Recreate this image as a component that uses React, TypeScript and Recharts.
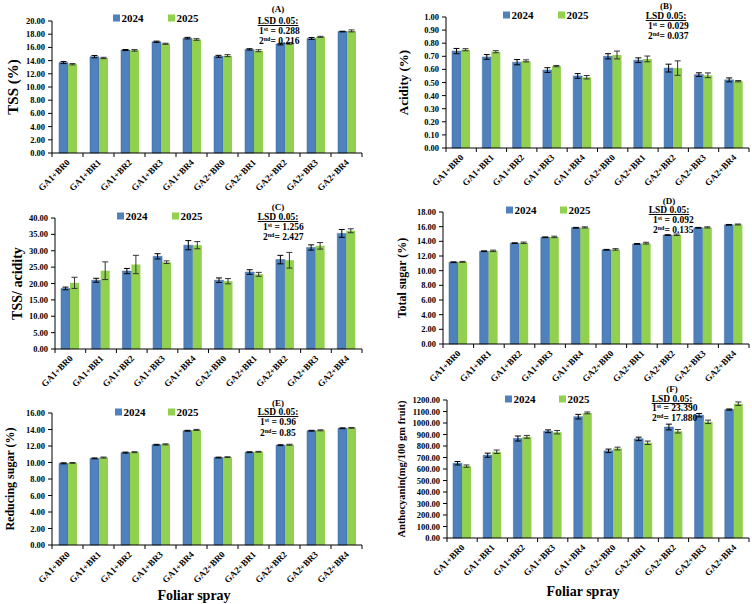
import { BarChart, Bar, XAxis, YAxis, ErrorBar } from 'recharts'

const categories = ['GA1+BR0', 'GA1+BR1', 'GA1+BR2', 'GA1+BR3', 'GA1+BR4', 'GA2+BR0', 'GA2+BR1', 'GA2+BR2', 'GA2+BR3', 'GA2+BR4']

// (A) TSS
const tss2024 = [13.7, 14.6, 15.6, 16.85, 17.4, 14.65, 15.7, 16.5, 17.35, 18.4]
const tss2025 = [13.45, 14.4, 15.55, 16.55, 17.2, 14.75, 15.5, 16.6, 17.6, 18.5]
const tssErr2024 = [0.15, 0.18, 0.08, 0.1, 0.12, 0.15, 0.1, 0.12, 0.15, 0.05]
const tssErr2025 = [0.1, 0.1, 0.12, 0.08, 0.12, 0.15, 0.15, 0.12, 0.08, 0.15]

// (B) Acidity
const acid2024 = [0.74, 0.695, 0.655, 0.595, 0.55, 0.7, 0.67, 0.61, 0.56, 0.52]
const acid2025 = [0.75, 0.735, 0.665, 0.625, 0.54, 0.71, 0.68, 0.61, 0.555, 0.51]
const acidErr2024 = [0.02, 0.018, 0.02, 0.018, 0.018, 0.02, 0.018, 0.03, 0.014, 0.015]
const acidErr2025 = [0.008, 0.008, 0.008, 0.005, 0.013, 0.03, 0.022, 0.055, 0.018, 0.005]

// (C) TSS/acidity
const ratio2024 = [18.5, 21.0, 23.8, 28.3, 31.7, 21.0, 23.5, 27.3, 31.0, 35.3]
const ratio2025 = [20.2, 23.9, 25.8, 26.5, 31.7, 20.7, 22.8, 27.1, 31.5, 36.1]
const ratioErr2024 = [0.4, 0.6, 0.8, 0.8, 1.4, 0.7, 0.7, 1.3, 0.8, 1.2]
const ratioErr2025 = [1.7, 2.7, 2.8, 0.4, 1.1, 0.8, 0.6, 2.4, 1.0, 0.6]

// (D) Total sugar
const sugar2024 = [11.15, 12.65, 13.75, 14.55, 15.85, 12.85, 13.65, 14.85, 15.85, 16.25]
const sugar2025 = [11.2, 12.7, 13.8, 14.6, 15.9, 12.9, 13.75, 14.9, 15.9, 16.3]
const sugarErr2024 = [0.05, 0.05, 0.05, 0.05, 0.05, 0.05, 0.05, 0.05, 0.05, 0.05]
const sugarErr2025 = [0.06, 0.1, 0.1, 0.1, 0.08, 0.1, 0.12, 0.1, 0.08, 0.06]

// (E) Reducing sugar
const reducing2024 = [9.9, 10.5, 11.2, 12.15, 13.85, 10.6, 11.25, 12.1, 13.85, 14.15]
const reducing2025 = [9.95, 10.6, 11.25, 12.2, 13.95, 10.65, 11.3, 12.15, 13.9, 14.2]
const reducingErr2024 = [0.06, 0.05, 0.06, 0.05, 0.05, 0.05, 0.05, 0.05, 0.05, 0.05]
const reducingErr2025 = [0.05, 0.06, 0.06, 0.06, 0.06, 0.05, 0.05, 0.06, 0.06, 0.05]

// (F) Anthocyanin
const antho2024 = [650, 720, 865, 928, 1055, 758, 862, 965, 1068, 1117]
const antho2025 = [625, 750, 880, 920, 1088, 778, 828, 928, 1010, 1168]
const anthoErr2024 = [15, 18, 22, 12, 20, 15, 15, 25, 15, 5]
const anthoErr2025 = [10, 15, 12, 15, 8, 12, 15, 15, 15, 15]

const BLUE = '#4f81bd'
const GREEN = '#92d050'
const FONT = '"Liberation Serif", "Times New Roman", serif'

function makeRows(a: number[], b: number[], ea: number[], eb: number[]) {
  return categories.map((name, i) => ({ name, y2024: a[i], y2025: b[i], e2024: ea[i], e2025: eb[i] }))
}

function range(max: number, step: number) {
  const out: number[] = []
  for (let i = 0; i <= Math.round(max / step); i++) out.push(+(i * step).toFixed(4))
  return out
}

const panels = [
  {
    id: 'A', x0: 0, y0: 0, H: 195, L: 52, T: 21, R: 362, B: 153,
    rows: makeRows(tss2024, tss2025, tssErr2024, tssErr2025), max: 20, step: 2,
    yTitle: 'TSS (%)', yTitleX: 13, yTitleSize: 15,
    legendY: 18, sq1: 113, sq2: 168,
    ax: 278, ay: [9, 21, 31, 41], aLeft: 259, lsd: ['0.288', '0.216'],
  },
  {
    id: 'B', x0: 376, y0: 0, H: 195, L: 70, T: 17, R: 373, B: 148,
    rows: makeRows(acid2024, acid2025, acidErr2024, acidErr2025), max: 1, step: 0.1,
    yTitle: 'Acidity (%)', yTitleX: 27, yTitleSize: 13,
    legendY: 15, sq1: 127, sq2: 182,
    ax: 290, ay: [6, 16, 26, 36], aLeft: 272, lsd: ['0.029', '0.037'],
  },
  {
    id: 'C', x0: 0, y0: 195, H: 205, L: 55, T: 23, R: 362, B: 154,
    rows: makeRows(ratio2024, ratio2025, ratioErr2024, ratioErr2025), max: 40, step: 5,
    yTitle: 'TSS/ acidity', yTitleX: 17, yTitleSize: 14,
    legendY: 21, sq1: 117, sq2: 172,
    ax: 278, ay: [12, 22, 32, 42], aLeft: 263, lsd: ['1.256', '2.427'],
  },
  {
    id: 'D', x0: 376, y0: 195, H: 205, L: 67, T: 17, R: 373, B: 149,
    rows: makeRows(sugar2024, sugar2025, sugarErr2024, sugarErr2025), max: 18, step: 2,
    yTitle: 'Total sugar (%)', yTitleX: 26, yTitleSize: 12,
    legendY: 15, sq1: 130, sq2: 184,
    ax: 293, ay: [6, 15, 25, 35], aLeft: 277, lsd: ['0.092', '0.135'],
  },
  {
    id: 'E', x0: 0, y0: 390, H: 214, L: 52, T: 23, R: 362, B: 155,
    rows: makeRows(reducing2024, reducing2025, reducingErr2024, reducingErr2025), max: 16, step: 2,
    yTitle: 'Reducing sugar (%)', yTitleX: 10, yTitleSize: 12,
    legendY: 22, sq1: 115, sq2: 168,
    ax: 278, ay: [13, 22, 32, 43], aLeft: 260, lsd: ['0.96', '0.85'],
    xTitleX: 194, xTitleY: 205,
  },
  {
    id: 'F', x0: 376, y0: 380, H: 224, L: 71, T: 20, R: 373, B: 158,
    rows: makeRows(antho2024, antho2025, anthoErr2024, anthoErr2025), max: 1200, step: 100,
    yTitle: 'Anthocyanin(mg/100 gm fruit)', yTitleX: 25, yTitleSize: 10.5,
    legendY: 19, sq1: 129, sq2: 183,
    ax: 296, ay: [9, 19, 28, 38], aLeft: 276, lsd: ['23.390', '17.880'],
    xTitleX: 207, xTitleY: 211,
  },
]

function XTick(props: any) {
  const { x, y, payload, index, bw } = props
  return (
    <g>
      <line x1={x - bw / 2} x2={x - bw / 2} y1={y} y2={y + 4} stroke="#000" />
      {index === categories.length - 1 && <line x1={x + bw / 2} x2={x + bw / 2} y1={y} y2={y + 4} stroke="#000" />}
      <text
        transform={`translate(${x + 3},${y + 10}) rotate(-45)`}
        textAnchor="end"
        fontSize={9}
        fontWeight={700}
        fontFamily={FONT}
        fill="#000"
      >
        {payload.value}
      </text>
    </g>
  )
}

function Panel({ p }: { p: (typeof panels)[number] }) {
  const bw = (p.R - p.L) / categories.length
  const txt = { fontFamily: FONT, fontWeight: 700, fill: '#000' }
  return (
    <div style={{ position: 'absolute', left: p.x0, top: p.y0, width: 376, height: p.H }}>
      <BarChart
        width={376}
        height={p.H}
        data={p.rows}
        margin={{ top: p.T, right: 376 - p.R, bottom: 0, left: 0 }}
        barGap={0}
        barSize={9}
      >
        <XAxis
          dataKey="name"
          height={p.H - p.B}
          interval={0}
          tickSize={0}
          tickMargin={0}
          tickLine={false}
          stroke="#000"
          tick={(t: any) => <XTick {...t} bw={bw} />}
        />
        <YAxis
          width={p.L}
          domain={[0, p.max]}
          ticks={range(p.max, p.step)}
          interval={0}
          tickFormatter={(v: number) => v.toFixed(2)}
          tickSize={4}
          tickMargin={3}
          stroke="#000"
          tick={{ fontSize: 8.5, fontWeight: 700, fill: '#000', fontFamily: FONT }}
        />
        <Bar dataKey="y2024" fill={BLUE} stroke="#3a6799" strokeWidth={0.5} isAnimationActive={false}>
          <ErrorBar dataKey="e2024" width={3} stroke="#000" strokeWidth={1} />
        </Bar>
        <Bar dataKey="y2025" fill={GREEN} isAnimationActive={false}>
          <ErrorBar dataKey="e2025" width={3} stroke="#333" strokeWidth={1} />
        </Bar>
      </BarChart>
      <svg width={376} height={p.H} style={{ position: 'absolute', left: 0, top: 0, pointerEvents: 'none' }}>
        <text
          transform={`translate(${p.yTitleX},${(p.T + p.B) / 2}) rotate(-90)`}
          textAnchor="middle"
          dominantBaseline="central"
          fontSize={p.yTitleSize}
          {...txt}
        >
          {p.yTitle}
        </text>
        <rect x={p.sq1} y={p.legendY - 3.5} width={7} height={7} fill={BLUE} />
        <text x={p.sq1 + 8.5} y={p.legendY + 4} fontSize={11} {...txt}>2024</text>
        <rect x={p.sq2} y={p.legendY - 3.5} width={7} height={7} fill={GREEN} />
        <text x={p.sq2 + 8.5} y={p.legendY + 4} fontSize={11} {...txt}>2025</text>
        <text x={p.ax} y={p.ay[0] + 3} textAnchor="middle" fontSize={9} {...txt}>({p.id})</text>
        <text x={p.ax} y={p.ay[1] + 3} textAnchor="middle" fontSize={9.5} textDecoration="underline" {...txt}>LSD 0.05:</text>
        <text x={p.aLeft} y={p.ay[2] + 3} fontSize={9.5} {...txt}>
          1<tspan fontSize={6} dy={-3}>st</tspan>
          <tspan dy={3}> = {p.lsd[0]}</tspan>
        </text>
        <text x={p.aLeft} y={p.ay[3] + 3} fontSize={9.5} {...txt}>
          2<tspan fontSize={6} dy={-3}>nd</tspan>
          <tspan dy={3}>= {p.lsd[1]}</tspan>
        </text>
        {p.xTitleX !== undefined && (
          <text x={p.xTitleX} y={p.xTitleY} textAnchor="middle" dominantBaseline="central" fontSize={14} {...txt}>
            Foliar spray
          </text>
        )}
      </svg>
    </div>
  )
}

export default function App() {
  return (
    <div style={{ position: 'absolute', left: 0, top: 0, width: 752, height: 604, background: '#fff', fontFamily: FONT }}>
      {panels.map((p) => (
        <Panel key={p.id} p={p} />
      ))}
    </div>
  )
}
